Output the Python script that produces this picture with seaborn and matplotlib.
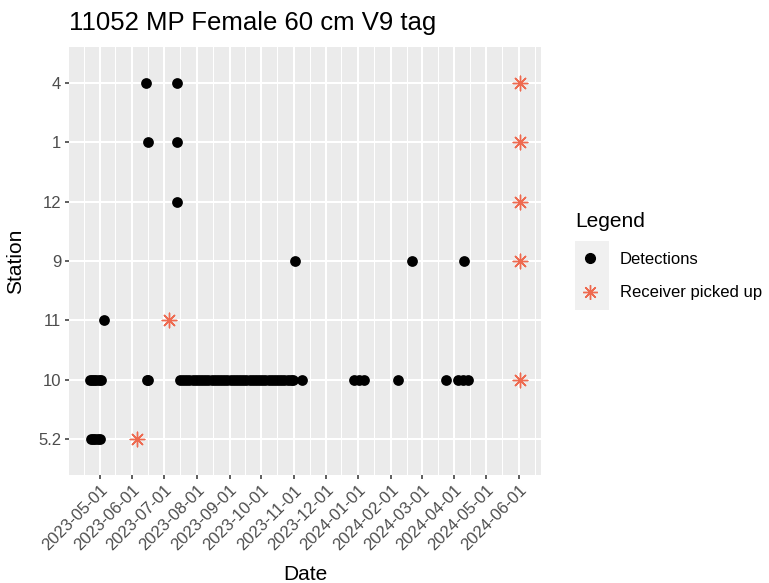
import matplotlib
matplotlib.use("Agg")
import matplotlib.pyplot as plt
import matplotlib.dates as mdates
from matplotlib.patches import Rectangle
from matplotlib.lines import Line2D
import seaborn as sns
import pandas as pd

# ---------------- data ----------------
station_order = ["5.2", "10", "11", "9", "12", "1", "4"]

det_5_2 = ["2023-04-23", "2023-04-25", "2023-04-27", "2023-04-29", "2023-05-01"]
det_10 = ["2023-04-22", "2023-04-24", "2023-04-26", "2023-04-28", "2023-04-30", "2023-05-02",
          "2023-06-15", "2023-06-16",
          "2023-07-16", "2023-07-19", "2023-07-22", "2023-07-25", "2023-07-28", "2023-07-31",
          "2023-08-03", "2023-08-06", "2023-08-09", "2023-08-12", "2023-08-15", "2023-08-18",
          "2023-08-21", "2023-08-24", "2023-08-27", "2023-08-30", "2023-09-02", "2023-09-05",
          "2023-09-08", "2023-09-11", "2023-09-14", "2023-09-17", "2023-09-20", "2023-09-23",
          "2023-09-26", "2023-09-29", "2023-10-02", "2023-10-05", "2023-10-08", "2023-10-11",
          "2023-10-14", "2023-10-17", "2023-10-20", "2023-10-23", "2023-10-26", "2023-10-29",
          "2023-10-31", "2023-11-09",
          "2023-12-28", "2024-01-02", "2024-01-06", "2024-02-08", "2024-03-24",
          "2024-04-04", "2024-04-09", "2024-04-14"]
det_11 = ["2023-05-05"]
det_9 = ["2023-11-02", "2024-02-21", "2024-04-10"]
det_12 = ["2023-07-13"]
det_1 = ["2023-06-16", "2023-07-13"]
det_4 = ["2023-06-14", "2023-07-13"]

rec_stations = ["5.2", "11", "10", "9", "12", "1", "4"]
rec_dates = ["2023-06-05", "2023-07-06", "2024-06-02", "2024-06-02", "2024-06-02",
             "2024-06-02", "2024-06-02"]

month_ticks = ["2023-05-01", "2023-06-01", "2023-07-01", "2023-08-01", "2023-09-01",
               "2023-10-01", "2023-11-01", "2023-12-01", "2024-01-01", "2024-02-01",
               "2024-03-01", "2024-04-01", "2024-05-01", "2024-06-01"]

title = "11052 MP Female 60 cm V9 tag"
legend_labels = ["Detections", "Receiver picked up"]

# ---------------- frames ----------------
det_groups = {"5.2": det_5_2, "10": det_10, "11": det_11, "9": det_9,
              "12": det_12, "1": det_1, "4": det_4}
rows = []
for st, ds in det_groups.items():
    for d in ds:
        rows.append((pd.Timestamp(d), st))
det = pd.DataFrame(rows, columns=["Date", "Station"])
det["Station"] = pd.Categorical(det["Station"], categories=station_order)

rec = pd.DataFrame({"Date": pd.to_datetime(rec_dates), "Station": rec_stations})
rec["Station"] = pd.Categorical(rec["Station"], categories=station_order)

# ---------------- figure ----------------
plt.rcParams["font.family"] = ["Liberation Sans", "DejaVu Sans"]
W, H = 769, 583
fig = plt.figure(figsize=(W / 100, H / 100), dpi=100)
pl, pr, pt, pb = 69, 541, 47, 475
ax = fig.add_axes([pl / W, 1 - pb / H, (pr - pl) / W, (pb - pt) / H])
ax.set_facecolor("#EBEBEB")

rec_color = "#EE6A50"
star = (8, 2, 0)

sns.scatterplot(data=det, x="Date", y="Station", color="black", s=60,
                linewidth=0, ax=ax, legend=False, zorder=3)
sns.scatterplot(data=rec, x="Date", y="Station", color=rec_color, marker=star,
                s=110, linewidth=1.0, ax=ax, legend=False, zorder=3)

ax.set_ylim(-0.6, len(station_order) - 0.4)
ax.set_xlim(pd.Timestamp("2023-04-02"), pd.Timestamp("2024-06-22"))

ax.set_xticks(pd.to_datetime(month_ticks))
ax.xaxis.set_major_formatter(mdates.DateFormatter("%Y-%m-%d"))
ax.xaxis.set_minor_locator(mdates.DayLocator(bymonthday=16))

for s in ax.spines.values():
    s.set_visible(False)
ax.grid(which="major", color="white", linewidth=1.5)
ax.grid(which="minor", axis="x", color="white", linewidth=0.75)
ax.set_axisbelow(True)

ax.tick_params(axis="both", which="major", length=3, width=1.1, color="#333333",
               labelcolor="#4D4D4D", labelsize=12, pad=2.5)
ax.tick_params(axis="x", which="minor", length=0)
for lab in ax.get_xticklabels():
    lab.set_rotation(45)
    lab.set_ha("right")
    lab.set_va("top")
    lab.set_rotation_mode("anchor")

ax.set_xlabel("Date", fontsize=15, color="black")
ax.set_ylabel("Station", fontsize=15, color="black")
ax.xaxis.set_label_coords(0.5, -0.21)
ax.yaxis.set_label_coords(-0.093, 0.5)
ax.set_title(title, loc="left", fontsize=18.5, color="black", pad=12)

# legend
fig.text(575 / W, 1 - 221 / H, "Legend", fontsize=15, color="black",
         ha="left", va="center")
fig.add_artist(Rectangle((575 / W, 1 - 310 / H), 34 / W, 69 / H,
                         transform=fig.transFigure, facecolor="#F0F0F0",
                         edgecolor="none"))
handles = [Line2D([], [], linestyle="none", marker="o", color="black", markersize=7),
           Line2D([], [], linestyle="none", marker=star, color=rec_color,
                  markersize=10.5, markeredgewidth=1.0)]
leg = fig.legend(handles, legend_labels,
                 loc="upper left", bbox_to_anchor=(578 / W, 1 - 252 / H),
                 frameon=False, fontsize=12, borderpad=0,
                 handlelength=1.4, handletextpad=1.1, labelspacing=1.1,
                 borderaxespad=0)

fig.savefig("out.png", dpi=100)
